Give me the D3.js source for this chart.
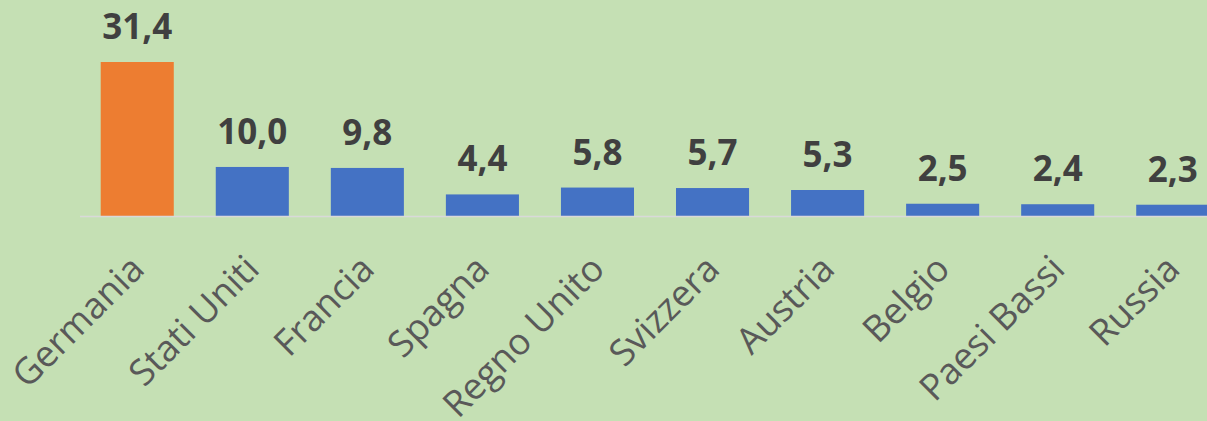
<!DOCTYPE html>
<html>
<head>
<meta charset="utf-8">
<script src="https://cdn.jsdelivr.net/npm/d3@7"></script>
<style>
  html, body { margin: 0; padding: 0; background: #c5e0b4; }
  svg { display: block; }
</style>
</head>
<body>
<script>
let countries = ['Germania', 'Stati Uniti', 'Francia', 'Spagna', 'Regno Unito', 'Svizzera', 'Austria', 'Belgio', 'Paesi Bassi', 'Russia'];
let values = [31.4, 10.0, 9.8, 4.4, 5.8, 5.7, 5.3, 2.5, 2.4, 2.3];
let highlight = ['Germania'];

let width = 1207, height = 421;
let baseY = 216;

let svg = d3.select('body').append('svg').attr('width', width).attr('height', height);
svg.append('rect').attr('width', width).attr('height', height).attr('fill', '#c5e0b4');

// band goes past the right edge, like the original crop
let x = d3.scaleBand().domain(countries).range([80, 1230]).paddingInner(0.365).paddingOuter(0.18);
let y = d3.scaleLinear().domain([0, 31.4]).range([baseY, 62]);

let it = d3.formatLocale({decimal: ',', thousands: '.', grouping: [3], currency: ['', '€']});
let fmt = it.format('.1f');

let data = countries.map(function(c, i) { return {name: c, value: values[i]}; });

svg.selectAll('rect.bar').data(data).enter().append('rect')
  .attr('class', 'bar')
  .attr('x', function(d) { return x(d.name); })
  .attr('y', function(d) { return y(d.value); })
  .attr('width', x.bandwidth())
  .attr('height', function(d) { return baseY - y(d.value); })
  .attr('fill', function(d) { return highlight.indexOf(d.name) >= 0 ? '#ed7d31' : '#4472c4'; });

svg.append('line')
  .attr('x1', 80).attr('x2', width)
  .attr('y1', baseY + 0.5).attr('y2', baseY + 0.5)
  .attr('stroke', '#d9d9d9').attr('stroke-width', 1.5);

svg.selectAll('text.val').data(data).enter().append('text')
  .attr('class', 'val')
  .attr('x', function(d) { return x(d.name) + x.bandwidth() / 2; })
  .attr('y', function(d) { return y(d.value) - 23; })
  .attr('text-anchor', 'middle')
  .attr('font-family', '"Open Sans", sans-serif')
  .attr('font-weight', 'bold')
  .attr('font-size', '35px')
  .attr('fill', '#404040')
  .text(function(d) { return fmt(d.value); });

let xAxis = d3.axisBottom(x).tickSize(0).tickPadding(0);
let ax = svg.append('g').attr('transform', 'translate(0,' + baseY + ')').call(xAxis);
ax.select('.domain').remove();
ax.selectAll('text')
  .attr('font-family', '"Open Sans", sans-serif')
  .attr('font-size', '36.5px')
  .attr('fill', '#595959')
  .attr('text-anchor', 'end')
  .attr('dy', '0.35em')
  .attr('transform', 'translate(0,46) rotate(-45)');
</script>
</body>
</html>
